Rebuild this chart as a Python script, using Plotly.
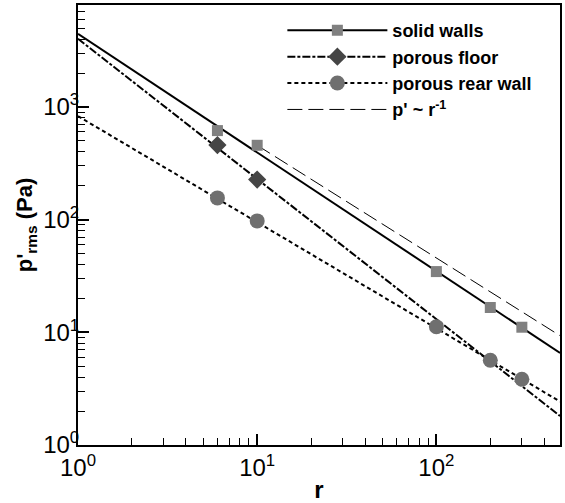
import plotly.graph_objects as go

# ---- data ----
r_pts = [6, 10, 100, 200, 300]
solid_walls = [617, 457, 34.6, 16.6, 11.1]
porous_floor_r = [6, 10]
porous_floor = [459, 227]
rear_wall = [156, 97.5, 11.2, 5.65, 3.83]

fit_r = [1, 490]
solid_fit = [4456, 6.55]
floor_fit = [4030, 1.81]
rear_fit = [829, 2.43]

ref_r = [10, 490]
ref_p = [457, 9.33]

x_ticks = [1, 10, 100]
x_ticktext = ["10<sup>0</sup>", "10<sup>1</sup>", "10<sup>2</sup>"]
y_ticks = [1, 10, 100, 1000]
y_ticktext = ["10<sup>0</sup>", "10<sup>1</sup>", "10<sup>2</sup>", "10<sup>3</sup>"]

FONT = "Liberation Sans, Arial, sans-serif"
SQ_COL = "#808080"
DI_COL = "#454545"
CI_COL = "#6f6f6f"

floor_dash = "8px,2px,3px,2px"
rear_dash = "4px,3px"
ref_dash = "15px,6px"

fig = go.Figure()

# fit lines
fig.add_trace(go.Scatter(x=fit_r, y=solid_fit, mode="lines",
                         line=dict(color="black", width=2), showlegend=False))
fig.add_trace(go.Scatter(x=fit_r, y=floor_fit, mode="lines",
                         line=dict(color="black", width=2, dash=floor_dash), showlegend=False))
fig.add_trace(go.Scatter(x=fit_r, y=rear_fit, mode="lines",
                         line=dict(color="black", width=2, dash=rear_dash), showlegend=False))
fig.add_trace(go.Scatter(x=ref_r, y=ref_p, mode="lines",
                         line=dict(color="black", width=1, dash=ref_dash), showlegend=False))

# data markers
fig.add_trace(go.Scatter(x=r_pts, y=solid_walls, mode="markers",
                         marker=dict(symbol="square", size=11, color=SQ_COL), showlegend=False))
fig.add_trace(go.Scatter(x=porous_floor_r, y=porous_floor, mode="markers",
                         marker=dict(symbol="diamond", size=14, color=DI_COL), showlegend=False))
fig.add_trace(go.Scatter(x=r_pts, y=rear_wall, mode="markers",
                         marker=dict(symbol="circle", size=15, color=CI_COL), showlegend=False))

# legend entries
fig.add_trace(go.Scatter(x=[None], y=[None], mode="lines+markers", name="<b>solid walls</b>",
                         line=dict(color="black", width=2),
                         marker=dict(symbol="square", size=11, color=SQ_COL)))
fig.add_trace(go.Scatter(x=[None], y=[None], mode="lines+markers", name="<b>porous floor</b>",
                         line=dict(color="black", width=2, dash=floor_dash),
                         marker=dict(symbol="diamond", size=14, color=DI_COL)))
fig.add_trace(go.Scatter(x=[None], y=[None], mode="lines+markers", name="<b>porous rear wall</b>",
                         line=dict(color="black", width=2, dash=rear_dash),
                         marker=dict(symbol="circle", size=15, color=CI_COL)))
fig.add_trace(go.Scatter(x=[None], y=[None], mode="lines", name="<b>p' ~ r<sup>-1</sup></b>",
                         line=dict(color="black", width=1, dash=ref_dash)))

minor_x = [m * 10 ** d for d in range(0, 3) for m in range(2, 10)]
minor_y = [m * 10 ** d for d in range(0, 4) for m in range(2, 10)]

axis_common = dict(
    type="log", showgrid=False, zeroline=False,
    showline=True, linecolor="black", linewidth=2, mirror=True,
    ticks="inside", ticklen=11, tickwidth=2, tickcolor="black",
    tickfont=dict(family=FONT, size=24, color="black"),
    tickmode="array",
)

fig.update_xaxes(**axis_common, range=[0, 2.69], tickvals=x_ticks, ticktext=x_ticktext,
                 minor=dict(tickmode="array", tickvals=minor_x, ticks="inside",
                            ticklen=7, tickwidth=1, tickcolor="black"),
                 title=dict(text="<b>r</b>", font=dict(family=FONT, size=24, color="black"),
                            standoff=2))
fig.update_yaxes(**axis_common, range=[0, 3.905], tickvals=y_ticks, ticktext=y_ticktext,
                 ticklabelstandoff=-8,
                 minor=dict(tickmode="array", tickvals=minor_y, ticks="inside",
                            ticklen=7, tickwidth=1, tickcolor="black"),
                 title=dict(text="<b>p'<sub>rms</sub> (Pa)</b>",
                            font=dict(family=FONT, size=22, color="black"), standoff=4))

fig.update_layout(
    width=565, height=503,
    margin=dict(l=78, r=3, t=4, b=53),
    paper_bgcolor="white", plot_bgcolor="white",
    font=dict(family=FONT, color="black"),
    legend=dict(x=0.424, y=0.984, xanchor="left", yanchor="top",
                bgcolor="rgba(0,0,0,0)", borderwidth=0,
                font=dict(family=FONT, size=18, color="black"),
                itemwidth=100, tracegroupgap=0),
)

fig.write_html("out.html")
